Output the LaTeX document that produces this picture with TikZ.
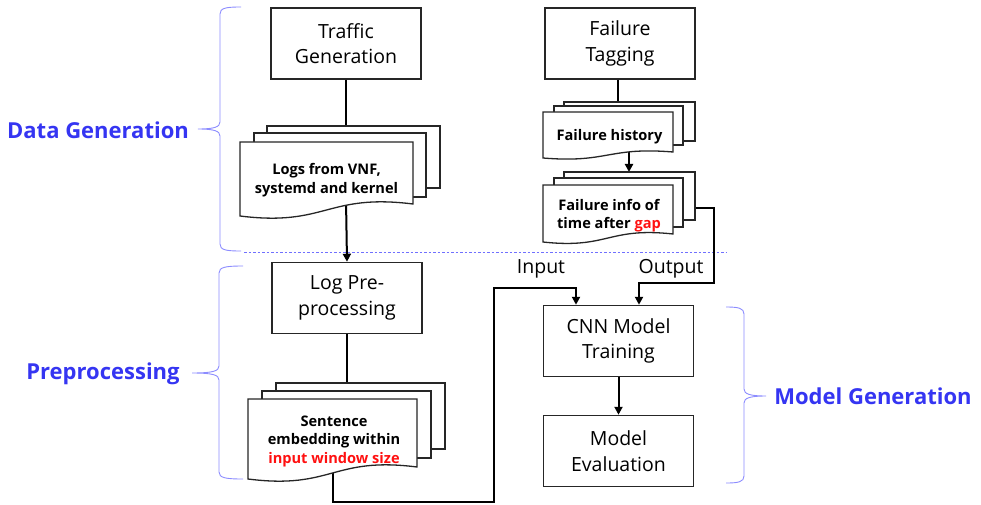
\documentclass[tikz,border=0pt]{standalone}
\usepackage{fontspec}
\setmainfont{Open Sans}
\usetikzlibrary{arrows.meta}
\definecolor{titleblue}{HTML}{3535F2}
\definecolor{bracecol}{HTML}{8C8CFF}
\definecolor{gapred}{HTML}{FF1010}
\tikzset{
  box/.style={draw=black!85, line width=1.5pt, fill=white, minimum width=150pt, minimum height=71pt,
    align=center, font=\fontsize{19.5}{25.5}\selectfont, inner sep=0pt},
  pageline/.style={draw=black!85, line width=1.3pt, fill=white},
  doctext/.style={align=center, font=\fontsize{14.6}{18.5}\selectfont\bfseries, inner sep=0pt},
  conn/.style={line width=2pt, black},
  arr/.style={conn, -{Triangle[length=8pt,width=8pt]}},
  bracestyle/.style={draw=bracecol, line width=0.9pt},
  title/.style={text=titleblue, font=\fontsize{22}{26}\selectfont\bfseries, inner sep=0pt},
  lbl/.style={font=\fontsize{19.5}{23}\selectfont, inner sep=0pt},
}
\newcommand\flatpage[4]{\filldraw[pageline] (#1,#2) rectangle (#3,#4);}
\newcommand\wavypage[5]{\filldraw[pageline] (#1,#2) -- (#3,#2) -- (#3,#5)
  .. controls ({(#1+#3)/2},{#5-(#4-#5)*0.9}) and ({(#1+#3)/2},{#4+(#4-#5)*0.9}) .. (#1,#4) -- cycle;}
\begin{document}
\begin{tikzpicture}[x=1pt,y=-1pt]
\useasboundingbox (0,0) rectangle (981,505);

% process boxes
\node[box] (tg) at (346,43.5) {Traffic\\Generation};
\node[box] (ft) at (620,43.5) {Failure\\Tagging};
\node[box] (lp) at (347,298) {Log Pre-\\processing};
\node[box] (cnn) at (618.5,341) {CNN Model\\Training};
\node[box] (me) at (618.5,451) {Model\\Evaluation};

% named connector ends
\coordinate (logsTop) at (346,126);
\coordinate (logsBot) at (346,200);
\coordinate (fhTop) at (618,102);
\coordinate (fhBot) at (629,146);
\coordinate (fiTop) at (629,172);
\coordinate (fiOut) at (695,208);
\coordinate (sentTop) at (347,383);
\coordinate (sentBot) at (333,465);

% separator
\draw[bracecol!80!blue, line width=0.7pt, dash pattern=on 2.5pt off 2pt] (244,252) -- (727,252);

% connectors
\draw[conn] (tg.south) -- (logsTop);
\draw[arr] (logsBot) -- (lp.north);
\draw[conn] (ft.south -| fhTop) -- (fhTop);
\draw[arr] (fhBot) -- (fiTop);
\draw[conn] (lp.south) -- (sentTop);
\draw[arr] (sentBot) -- (333,502) -| (494,288) -| ([xshift=-42.5pt]cnn.north);
\draw[arr] (fiOut) -| (714,283) -| ([xshift=20.5pt]cnn.north);
\draw[arr] (cnn.south) -- (me.north);

% document stacks
\flatpage{267}{126}{440}{188}
\flatpage{254}{133}{426}{197}
\wavypage{240}{142}{413}{216}{204}
\node[doctext] (logs) at (326.5,180) {Logs from VNF,\\systemd and kernel};

\flatpage{564}{102}{695}{141}
\flatpage{554}{106}{683}{145}
\wavypage{543}{112}{673}{158}{152}
\node[doctext] (fh) at (609.5,137) {Failure history};

\flatpage{564}{172}{695}{220}
\flatpage{554}{178}{683}{227}
\wavypage{543}{185}{673}{242}{234}
\node[doctext] (fi) at (609,215.5) {Failure info of\\time after \textcolor{gapred}{gap}};

\flatpage{276}{383}{445}{449}
\flatpage{262}{391}{431}{458}
\wavypage{248}{399}{417}{479}{467}
\node[doctext] (sent) at (334,441) {Sentence\\embedding within\\\textcolor{gapred}{input window size}};

% labels
\node[lbl] (inlbl) at (541,269) {Input};
\node[lbl] (outlbl) at (671,269) {Output};

% braces
\draw[bracestyle] (241,7) .. controls (226,7) and (220,8) .. (220,14) -- (220,122)
  .. controls (220,127) and (214,129) .. (198,129)
  .. controls (214,129) and (220,131) .. (220,136) -- (220,244)
  .. controls (220,250) and (226,251) .. (241,251);
\draw[bracestyle] (243,266) .. controls (226,266) and (219,267) .. (219,273) -- (219,366)
  .. controls (219,371) and (213,373) .. (192,373)
  .. controls (213,373) and (219,375) .. (219,380) -- (219,472)
  .. controls (219,478) and (226,479) .. (243,479);
\draw[bracestyle] (726,307) .. controls (738,307) and (744,308) .. (744,314) -- (744,389)
  .. controls (744,394) and (750,396) .. (766,396)
  .. controls (750,396) and (744,398) .. (744,403) -- (744,476)
  .. controls (744,482) and (738,483) .. (726,483);

% titles
\node[title] (dg) at (98,130) {Data Generation};
\node[title] (pp) at (103,374) {Preprocessing};
\node[title] (mg) at (873,396) {Model Generation};
\end{tikzpicture}
\end{document}
